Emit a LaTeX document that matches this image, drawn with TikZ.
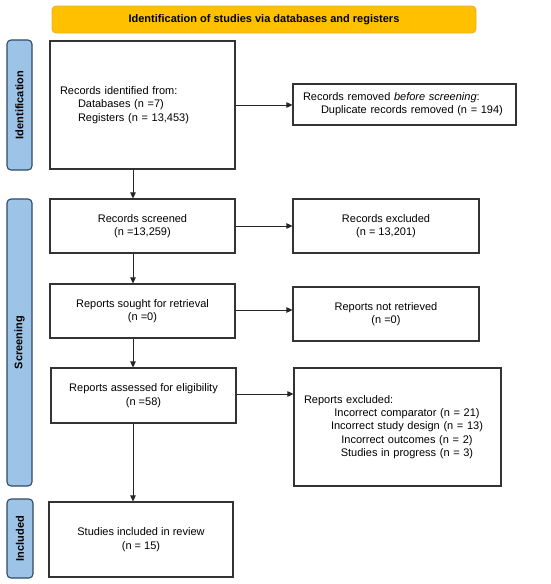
\documentclass[tikz,border=0pt]{standalone}
\usepackage{fontspec}
\setmainfont{Liberation Sans}
\usetikzlibrary{arrows.meta}
\definecolor{bannerfill}{HTML}{FFC000}
\definecolor{bannerdraw}{HTML}{E8B030}
\definecolor{labfill}{HTML}{9DC3E6}
\definecolor{labdraw}{HTML}{2E4A66}
\definecolor{boxdraw}{HTML}{333333}
\tikzset{
  box/.style={draw=boxdraw, line width=1.1pt, fill=white, inner sep=0pt, align=center,
    font=\fontsize{11}{13.3}\selectfont},
  phase/.style={draw=labdraw, line width=1.1pt, fill=labfill, rounded corners=4pt, rotate=90,
    inner sep=0pt, font=\fontsize{11}{13}\selectfont\bfseries},
  banner/.style={draw=bannerdraw, line width=0.8pt, fill=bannerfill, rounded corners=4pt,
    inner sep=0pt, font=\fontsize{11}{13}\selectfont\bfseries},
  arr/.style={draw=black!85, line width=0.8pt, -{Triangle[length=6pt,width=5.5pt]}}
}
\begin{document}
\begin{tikzpicture}[x=1pt,y=-1pt]
\useasboundingbox (0,0) rectangle (550,584);
\fill[white] (0,0) rectangle (550,584);
\coordinate (ax) at (133,0);

\node[banner, minimum width=424pt, minimum height=27pt] (ban) at (264,19.5)
  {Identification of studies via databases and registers};

\node[phase, minimum width=130pt, minimum height=25pt] (pid) at (19.5,105) {Identification};
\node[phase, minimum width=287pt, minimum height=25pt] (psc) at (19.5,342.5) {Screening};
\node[phase, minimum width=79pt, minimum height=26pt] (pin) at (20,538.5) {Included};

\node[box, minimum width=185pt, minimum height=128pt, text width=165pt, align=left] (ident) at (142.5,105)
  {Records identified from:\\\hspace*{18pt}Databases (n =7)\\\hspace*{18pt}Registers (n = 13,453)};
\node[box, minimum width=223pt, minimum height=41pt, text width=203pt, align=left] (removed) at (404.5,104.5)
  {Records removed \textit{before screening}:\\\hspace*{18pt}Duplicate records removed (n = 194)};

\node[box, minimum width=185pt, minimum height=54pt] (screened) at (142.5,226)
  {Records screened\\(n =13,259)};
\node[box, minimum width=186pt, minimum height=54pt] (excluded) at (386,226)
  {Records excluded\\(n = 13,201)};

\node[box, minimum width=185pt, minimum height=54pt] (sought) at (142.5,311)
  {Reports sought for retrieval\\(n =0)};
\node[box, minimum width=186pt, minimum height=54pt] (notret) at (386,314)
  {Reports not retrieved\\(n =0)};

\node[box, minimum width=185pt, minimum height=55pt] (assessed) at (143.5,395.5)
  {Reports assessed for eligibility\\(n =58)};
\node[box, minimum width=207pt, minimum height=118pt, text width=187pt, align=left] (repexcl) at (397.5,427)
  {Reports excluded:\\
   \makebox[187pt]{\hspace{19pt}Incorrect comparator (n = 21)}\\
   \makebox[187pt]{\hspace{19pt}Incorrect study design (n = 13)}\\
   \makebox[187pt]{\hspace{19pt}Incorrect outcomes (n = 2)}\\
   \makebox[187pt]{\hspace{19pt}Studies in progress (n = 3)}};

\node[box, minimum width=184pt, minimum height=75pt] (included) at (141,539.5)
  {Studies included in review\\(n = 15)};

\draw[arr] (ident.east) -- (ident.east -| removed.west);
\draw[arr] (screened.east) -- (screened.east -| excluded.west);
\draw[arr] ([yshift=1pt]sought.east) -- ([yshift=1pt]sought.east -| notret.west);
\draw[arr] ([yshift=1.5pt]assessed.east) -- ([yshift=1.5pt]assessed.east -| repexcl.west);

\draw[arr] (ident.south -| ax) -- (screened.north -| ax);
\draw[arr] (screened.south -| ax) -- (sought.north -| ax);
\draw[arr] (sought.south -| ax) -- (assessed.north -| ax);
\draw[arr] (assessed.south -| ax) -- (included.north -| ax);
\end{tikzpicture}
\end{document}
